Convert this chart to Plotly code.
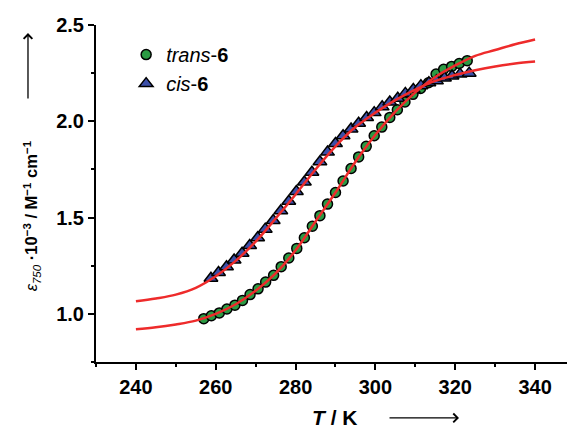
import plotly.graph_objects as go

# ---- data ----
trans_T = [257.0, 258.9, 260.9, 262.8, 264.8, 266.7, 268.6, 270.6, 272.5, 274.5, 276.4, 278.3,
           280.3, 282.2, 284.2, 286.1, 288.0, 290.0, 291.9, 293.9, 295.8, 297.7, 299.7, 301.6,
           303.6, 305.5, 307.4, 309.4, 311.3, 313.3, 315.2, 317.1, 319.1, 321.0, 323.0]
trans_eps = [0.975, 0.99, 1.005, 1.025, 1.045, 1.07, 1.10, 1.13, 1.165, 1.20, 1.245, 1.29,
             1.34, 1.395, 1.455, 1.51, 1.57, 1.63, 1.69, 1.755, 1.815, 1.87, 1.925, 1.97,
             2.02, 2.06, 2.10, 2.14, 2.17, 2.20, 2.245, 2.27, 2.285, 2.30, 2.315]

cis_T = [258.8, 260.7, 262.7, 264.6, 266.6, 268.5, 270.5, 272.4, 274.4, 276.3, 278.3, 280.2,
         282.2, 284.1, 286.1, 288.0, 290.0, 291.9, 293.9, 295.8, 297.8, 299.7, 301.7, 303.6,
         305.6, 307.5, 309.5, 311.4, 313.4, 315.3, 317.3, 319.2, 321.2, 323.5]
cis_eps = [1.185, 1.215, 1.245, 1.28, 1.315, 1.355, 1.395, 1.44, 1.485, 1.535, 1.585, 1.635,
           1.685, 1.735, 1.79, 1.84, 1.885, 1.925, 1.96, 1.99, 2.02, 2.045, 2.075, 2.10,
           2.12, 2.145, 2.165, 2.185, 2.20, 2.21, 2.225, 2.235, 2.245, 2.25]

fit_T = [240, 245, 250, 255, 260, 265, 270, 275, 280, 285, 290, 295, 300, 305, 310, 315,
         320, 325, 330, 335, 340]
trans_fit = [0.92, 0.93, 0.945, 0.965, 1.00, 1.05, 1.12, 1.21, 1.33, 1.48, 1.63, 1.79, 1.93,
             2.05, 2.15, 2.23, 2.29, 2.34, 2.37, 2.40, 2.425]
cis_fit = [1.065, 1.08, 1.10, 1.135, 1.195, 1.275, 1.375, 1.495, 1.62, 1.75, 1.87, 1.97, 2.045,
           2.11, 2.165, 2.21, 2.24, 2.265, 2.285, 2.30, 2.31]

names = ["<i>trans</i>-<b>6</b>", "<i>cis</i>-<b>6</b>"]

FONT = "Liberation Sans, Arial, sans-serif"
RED = "#ee2b2b"

fig = go.Figure()
fig.add_trace(go.Scatter(x=trans_T, y=trans_eps, mode="markers", name=names[0],
                         marker=dict(symbol="circle", size=10, color="#2b9a43",
                                     line=dict(color="black", width=1.5))))
fig.add_trace(go.Scatter(x=cis_T, y=cis_eps, mode="markers", name=names[1],
                         marker=dict(symbol="triangle-up", size=12, color="#3c4fa8",
                                     line=dict(color="black", width=1.5))))
fig.add_trace(go.Scatter(x=fit_T, y=trans_fit, mode="lines", showlegend=False,
                         line=dict(color=RED, width=2.5, shape="spline")))
fig.add_trace(go.Scatter(x=fit_T, y=cis_fit, mode="lines", showlegend=False,
                         line=dict(color=RED, width=2.5, shape="spline")))

axis_common = dict(showgrid=False, zeroline=False, showline=True, linecolor="black",
                   linewidth=2, ticks="outside", ticklen=6, tickwidth=1.5, tickcolor="black",
                   tickfont=dict(family=FONT, size=20, color="black", weight="bold"))

fig.update_xaxes(range=[230, 348], tick0=240, dtick=20,
                 minor=dict(dtick=10, ticks="outside", ticklen=3, tickwidth=1.5,
                            tickcolor="black", showgrid=False),
                 **axis_common)
fig.update_yaxes(range=[0.75, 2.5], tick0=1.0, dtick=0.5, tickformat=".1f",
                 minor=dict(dtick=0.25, ticks="outside", ticklen=3, tickwidth=1.5,
                            tickcolor="black", showgrid=False),
                 **axis_common)

fig.update_layout(
    width=567, height=428,
    margin=dict(l=96, r=0, t=25, b=66),
    paper_bgcolor="white", plot_bgcolor="white",
    font=dict(family=FONT, color="black"),
    showlegend=True,
    legend=dict(x=0.064, y=0.97, xanchor="left", yanchor="top",
                bgcolor="rgba(0,0,0,0)", font=dict(family=FONT, size=20),
                tracegroupgap=0),
    annotations=[
        dict(xref="paper", yref="paper", x=-0.136, y=0.435, showarrow=False,
             textangle=-90, xanchor="center", yanchor="middle",
             font=dict(family=FONT, size=16.5, color="black"),
             text="<i>ε</i><sub><i>750</i></sub> <b>·10<sup>−3</sup> / M<sup>−1</sup> cm<sup>−1</sup></b>"),
        dict(xref="paper", yref="paper", x=-0.1444, y=0.976, text="", showarrow=True,
             ax=0, ay=67, arrowhead=4, arrowsize=1.3, arrowwidth=1.3, arrowcolor="black",
             standoff=0),
        dict(xref="paper", yref="paper", x=0.5074, y=-0.166, showarrow=False,
             xanchor="center", yanchor="middle",
             font=dict(family=FONT, size=21, color="black"),
             text="<b><i>T</i> / K</b>"),
        dict(xref="paper", yref="paper", x=0.7707, y=-0.166, text="", showarrow=True,
             ax=-71, ay=0, arrowhead=4, arrowsize=1.3, arrowwidth=1.3, arrowcolor="black",
             standoff=0),
    ],
)

fig.write_html("out.html")
